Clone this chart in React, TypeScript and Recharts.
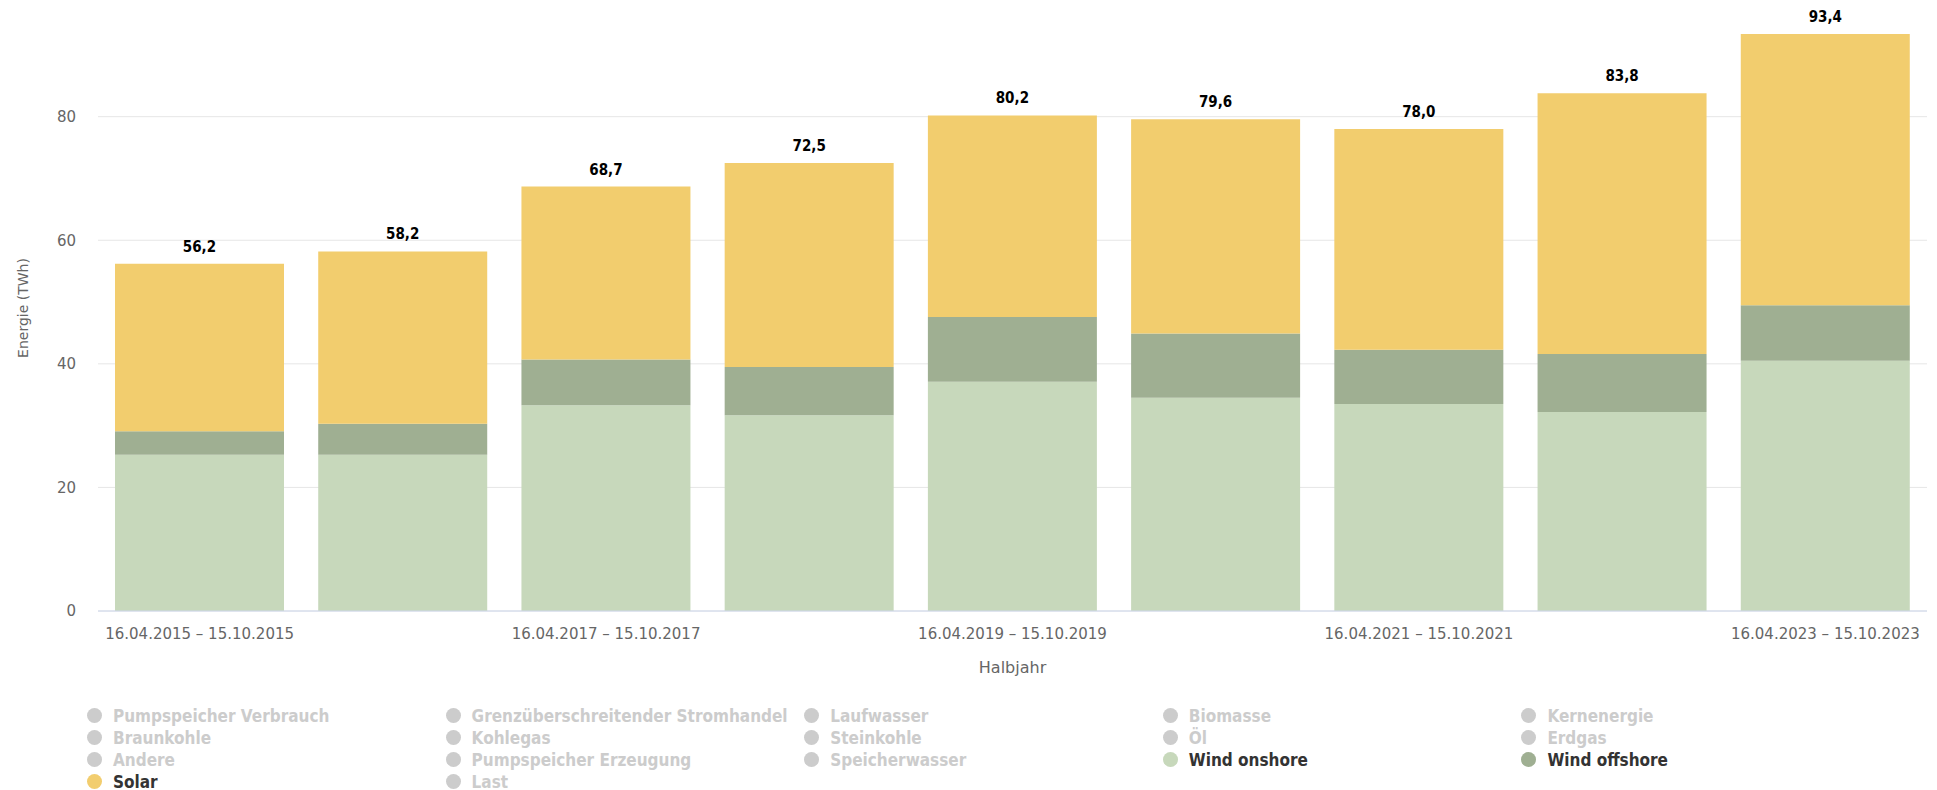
import React from 'react';
import {
  BarChart,
  Bar,
  XAxis,
  YAxis,
  CartesianGrid,
  Legend,
  LabelList,
} from 'recharts';

const periods = [
  '16.04.2015 – 15.10.2015',
  '16.04.2016 – 15.10.2016',
  '16.04.2017 – 15.10.2017',
  '16.04.2018 – 15.10.2018',
  '16.04.2019 – 15.10.2019',
  '16.04.2020 – 15.10.2020',
  '16.04.2021 – 15.10.2021',
  '16.04.2022 – 15.10.2022',
  '16.04.2023 – 15.10.2023',
];

// TWh per half year
const windOnshore = [25.3, 25.3, 33.3, 31.7, 37.1, 34.5, 33.5, 32.2, 40.5];
const windOffshore = [3.8, 5.0, 7.4, 7.8, 10.5, 10.4, 8.8, 9.4, 9.0];
const solar = [27.1, 27.9, 28.0, 33.0, 32.6, 34.7, 35.7, 42.2, 43.9];

const yTicks = [0, 20, 40, 60, 80];

const legendNames = [
  'Pumpspeicher Verbrauch',
  'Grenzüberschreitender Stromhandel',
  'Laufwasser',
  'Biomasse',
  'Kernenergie',
  'Braunkohle',
  'Kohlegas',
  'Steinkohle',
  'Öl',
  'Erdgas',
  'Andere',
  'Pumpspeicher Erzeugung',
  'Speicherwasser',
  'Wind onshore',
  'Wind offshore',
  'Solar',
  'Last',
];

const colors = {
  onshore: '#c7d8bb',
  offshore: '#9faf92',
  solar: '#f2cd6e',
};

const activeColors: Record<string, string> = {
  'Wind onshore': colors.onshore,
  'Wind offshore': colors.offshore,
  Solar: colors.solar,
};

const data = periods.map((p, i) => ({
  period: p,
  onshore: windOnshore[i],
  offshore: windOffshore[i],
  solar: solar[i],
  total: windOnshore[i] + windOffshore[i] + solar[i],
}));

const font = "'DejaVu Sans', sans-serif";
const fontCond = "'DejaVu Sans Condensed', 'DejaVu Sans', sans-serif";

function LegendBox() {
  return (
    <div
      style={{
        display: 'grid',
        gridTemplateColumns: 'repeat(5, 358.6px)',
        gridAutoRows: '21.9px',
        paddingLeft: 87,
        fontFamily: fontCond,
        fontStretch: 'condensed',
        fontWeight: 'bold',
        fontSize: 17,
      }}
    >
      {legendNames.map((name) => {
        const c = activeColors[name];
        return (
          <div key={name} style={{ display: 'flex', alignItems: 'center', whiteSpace: 'nowrap' }}>
            <span
              style={{
                width: 15,
                height: 15,
                borderRadius: 7.5,
                background: c ?? '#cccccc',
                marginRight: 11,
                flex: 'none',
              }}
            />
            <span style={{ color: c ? '#333333' : '#cccccc' }}>{name}</span>
          </div>
        );
      })}
    </div>
  );
}

function YTitle() {
  return (
    <text
      x={23}
      y={308}
      transform="rotate(-90 23 308)"
      textAnchor="middle"
      dominantBaseline="central"
      fontSize={14}
      fill="#666666"
      fontFamily={font}
    >
      Energie (TWh)
    </text>
  );
}

export default function App() {
  return (
    <div style={{ position: 'absolute', left: 0, top: 0, width: 1937, height: 790, background: '#fff' }}>
      <BarChart
        width={1937}
        height={790}
        data={data}
        margin={{ top: 24, right: 10, bottom: 109, left: 0 }}
        barCategoryGap={17}
      >
        <CartesianGrid horizontal vertical={false} stroke="#e6e6e6" horizontalValues={yTicks} />
        <XAxis
          dataKey="period"
          interval={1}
          height={70}
          tickLine={false}
          tickSize={0}
          tickMargin={17}
          axisLine={{ stroke: '#ccd6eb' }}
          tick={{ fontSize: 15, fill: '#666666', fontFamily: font }}
          label={{
            value: 'Halbjahr',
            position: 'insideBottom',
            offset: 8,
            fontSize: 16,
            fill: '#666666',
            fontFamily: font,
          }}
        />
        <YAxis
          width={98}
          domain={[0, 95]}
          ticks={yTicks}
          axisLine={false}
          tickLine={false}
          tickSize={0}
          tickMargin={22}
          tick={{ fontSize: 15, fill: '#666666', fontFamily: font }}
          label={<YTitle />}
        />
        <Legend
          layout="horizontal"
          verticalAlign="middle"
          align="center"
          wrapperStyle={{ top: 705, left: 0, width: 1937 }}
          content={() => <LegendBox />}
        />
        <Bar dataKey="onshore" stackId="a" fill={colors.onshore} isAnimationActive={false} />
        <Bar dataKey="offshore" stackId="a" fill={colors.offshore} isAnimationActive={false} />
        <Bar dataKey="solar" stackId="a" fill={colors.solar} isAnimationActive={false}>
          <LabelList
            dataKey="total"
            position="top"
            offset={12}
            formatter={(v: any) => Number(v).toFixed(1).replace('.', ',')}
            style={{ fontSize: 15, fontWeight: 'bold', fill: '#000000', fontFamily: fontCond }}
          />
        </Bar>
      </BarChart>
    </div>
  );
}
